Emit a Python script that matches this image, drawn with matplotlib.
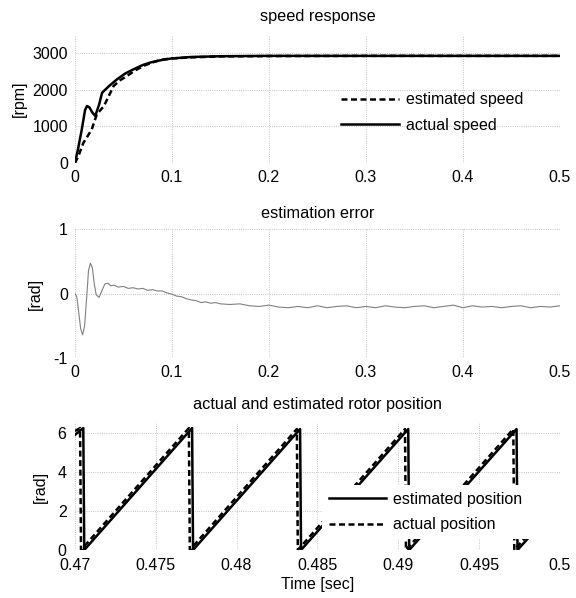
import matplotlib
matplotlib.use("Agg")
import matplotlib.pyplot as plt

plt.rcParams['font.family'] = ['Liberation Sans', 'DejaVu Sans']
plt.rcParams['font.size'] = 11.5
plt.rcParams['axes.unicode_minus'] = False

# speed response
act_t = [0, 0.003, 0.007, 0.0105, 0.0125, 0.015, 0.018, 0.021, 0.025, 0.028, 0.035, 0.0435,
         0.052, 0.061, 0.07, 0.078, 0.09, 0.1, 0.12, 0.15, 0.2, 0.3, 0.4, 0.5]
act_speed = [0, 350, 900, 1450, 1560, 1520, 1380, 1290, 1600, 1920, 2100, 2290,
             2450, 2570, 2680, 2750, 2820, 2860, 2900, 2920, 2930, 2930, 2930, 2930]
est_t = [0, 0.0035, 0.0087, 0.0135, 0.0174, 0.0226, 0.03, 0.04, 0.047, 0.054, 0.062, 0.071,
         0.08, 0.089, 0.1, 0.12, 0.15, 0.2, 0.3, 0.4, 0.5]
est_speed = [0, 180, 550, 750, 920, 1330, 1560, 2110, 2270, 2385, 2530, 2660,
             2750, 2826, 2860, 2890, 2915, 2925, 2930, 2930, 2930]

# estimation error
err_t = [0, 0.002, 0.004, 0.006, 0.008, 0.01, 0.012, 0.014, 0.016, 0.018, 0.02, 0.022,
         0.025, 0.028, 0.031, 0.034, 0.037, 0.04, 0.045, 0.05, 0.055,
         0.06, 0.065, 0.07, 0.075, 0.08, 0.085, 0.09, 0.095, 0.1, 0.105, 0.11, 0.115, 0.12,
         0.125, 0.13, 0.135, 0.14, 0.145, 0.15, 0.16, 0.17, 0.18, 0.19,
         0.2, 0.21, 0.22, 0.23, 0.24, 0.25, 0.26, 0.27, 0.28, 0.29, 0.3, 0.31, 0.32, 0.33,
         0.34, 0.35, 0.36, 0.37, 0.38, 0.39, 0.4, 0.41, 0.42, 0.43, 0.44, 0.45, 0.46, 0.47,
         0.48, 0.49, 0.5]
err = [0, -0.05, -0.3, -0.55, -0.64, -0.5, -0.1, 0.35, 0.47, 0.4, 0.15, -0.02,
       -0.06, 0.05, 0.15, 0.16, 0.12, 0.13, 0.1, 0.11, 0.08,
       0.09, 0.07, 0.08, 0.05, 0.06, 0.04, 0.04, 0.01, -0.01, -0.04, -0.05, -0.08, -0.1,
       -0.11, -0.14, -0.13, -0.15, -0.14, -0.16, -0.17, -0.16, -0.19, -0.2,
       -0.18, -0.21, -0.22, -0.2, -0.22, -0.19, -0.22, -0.2, -0.19, -0.22, -0.2, -0.22, -0.19, -0.21,
       -0.22, -0.2, -0.19, -0.22, -0.2, -0.18, -0.22, -0.19, -0.21, -0.2, -0.22, -0.2, -0.19, -0.22,
       -0.2, -0.21, -0.19]

# rotor position
pos_est_t = [0.47, 0.47052, 0.47058, 0.47725, 0.47731, 0.48393, 0.48399, 0.49062, 0.49068,
             0.49732, 0.49738, 0.5]
pos_est = [5.9, 6.25, 0.0, 6.25, 0.0, 6.2, 0.0, 6.2, 0.0, 6.2, 0.0, 2.4]
pos_act_t = [0.47, 0.47032, 0.47038, 0.47705, 0.47711, 0.48373, 0.48379, 0.49042, 0.49048,
             0.49712, 0.49718, 0.5]
pos_act = [6.1, 6.25, 0.0, 6.25, 0.0, 6.2, 0.0, 6.2, 0.0, 6.2, 0.0, 2.6]

fig = plt.figure(figsize=(5.76, 5.98), dpi=100)
ax1 = fig.add_axes([0.130, 0.7274, 0.842, 0.214])
ax2 = fig.add_axes([0.130, 0.4013, 0.842, 0.2157])
ax3 = fig.add_axes([0.130, 0.0803, 0.842, 0.212])

for ax in (ax1, ax2, ax3):
    for s in ax.spines.values():
        s.set_visible(False)
    ax.grid(True, color='0.7', linestyle=':', linewidth=0.6)
    ax.tick_params(length=0, pad=5)

dash = (2.4, 1.4)
ax1.plot(est_t, est_speed, color='black', lw=1.8, dashes=dash, label='estimated speed')
ax1.plot(act_t, act_speed, color='black', lw=1.8, label='actual speed')
ax1.set_xlim(0, 0.5)
ax1.set_ylim(0, 3500)
ax1.set_yticks([0, 1000, 2000, 3000])
ax1.set_xticks([0, 0.1, 0.2, 0.3, 0.4, 0.5])
ax1.set_xticklabels(['0', '0.1', '0.2', '0.3', '0.4', '0.5'])
ax1.set_ylabel('[rpm]', labelpad=4)
ax1.set_title('speed response', pad=10, fontsize=11.7)
ax1.legend(loc='center left', bbox_to_anchor=(0.52, 0.395), frameon=False,
           handlelength=3.6, handletextpad=0.45, labelspacing=0.65)

ax2.plot(err_t, err, color='0.5', lw=0.8)
ax2.set_xlim(0, 0.5)
ax2.set_ylim(-1, 1)
ax2.set_yticks([-1, 0, 1])
ax2.set_xticks([0, 0.1, 0.2, 0.3, 0.4, 0.5])
ax2.set_xticklabels(['0', '0.1', '0.2', '0.3', '0.4', '0.5'])
ax2.set_ylabel('[rad]', labelpad=8)
ax2.set_title('estimation error', pad=8, fontsize=11.7)

ax3.plot(pos_est_t, pos_est, color='black', lw=1.8, label='estimated position')
ax3.plot(pos_act_t, pos_act, color='black', lw=1.8, dashes=dash, label='actual position')
ax3.set_xlim(0.47, 0.5)
ax3.set_ylim(0, 6.5)
ax3.set_yticks([0, 2, 4, 6])
ax3.set_xticks([0.47, 0.475, 0.48, 0.485, 0.49, 0.495, 0.5])
ax3.set_xticklabels(['0.47', '0.475', '0.48', '0.485', '0.49', '0.495', '0.5'])
ax3.tick_params(axis='x', pad=6)
ax3.tick_params(axis='y', pad=6)
ax3.set_ylabel('[rad]', labelpad=7)
ax3.set_xlabel('Time [sec]', labelpad=3)
ax3.set_title('actual and estimated rotor position', pad=10, fontsize=11.7)
ax3.legend(loc='lower left', bbox_to_anchor=(0.51, 0.09, 0.52, 0.40), mode='expand',
           frameon=True, facecolor='white', edgecolor='none', framealpha=1, fancybox=False,
           handlelength=3.6, handletextpad=0.45, labelspacing=0.65, borderaxespad=0)

fig.savefig('out.png', dpi=100)
